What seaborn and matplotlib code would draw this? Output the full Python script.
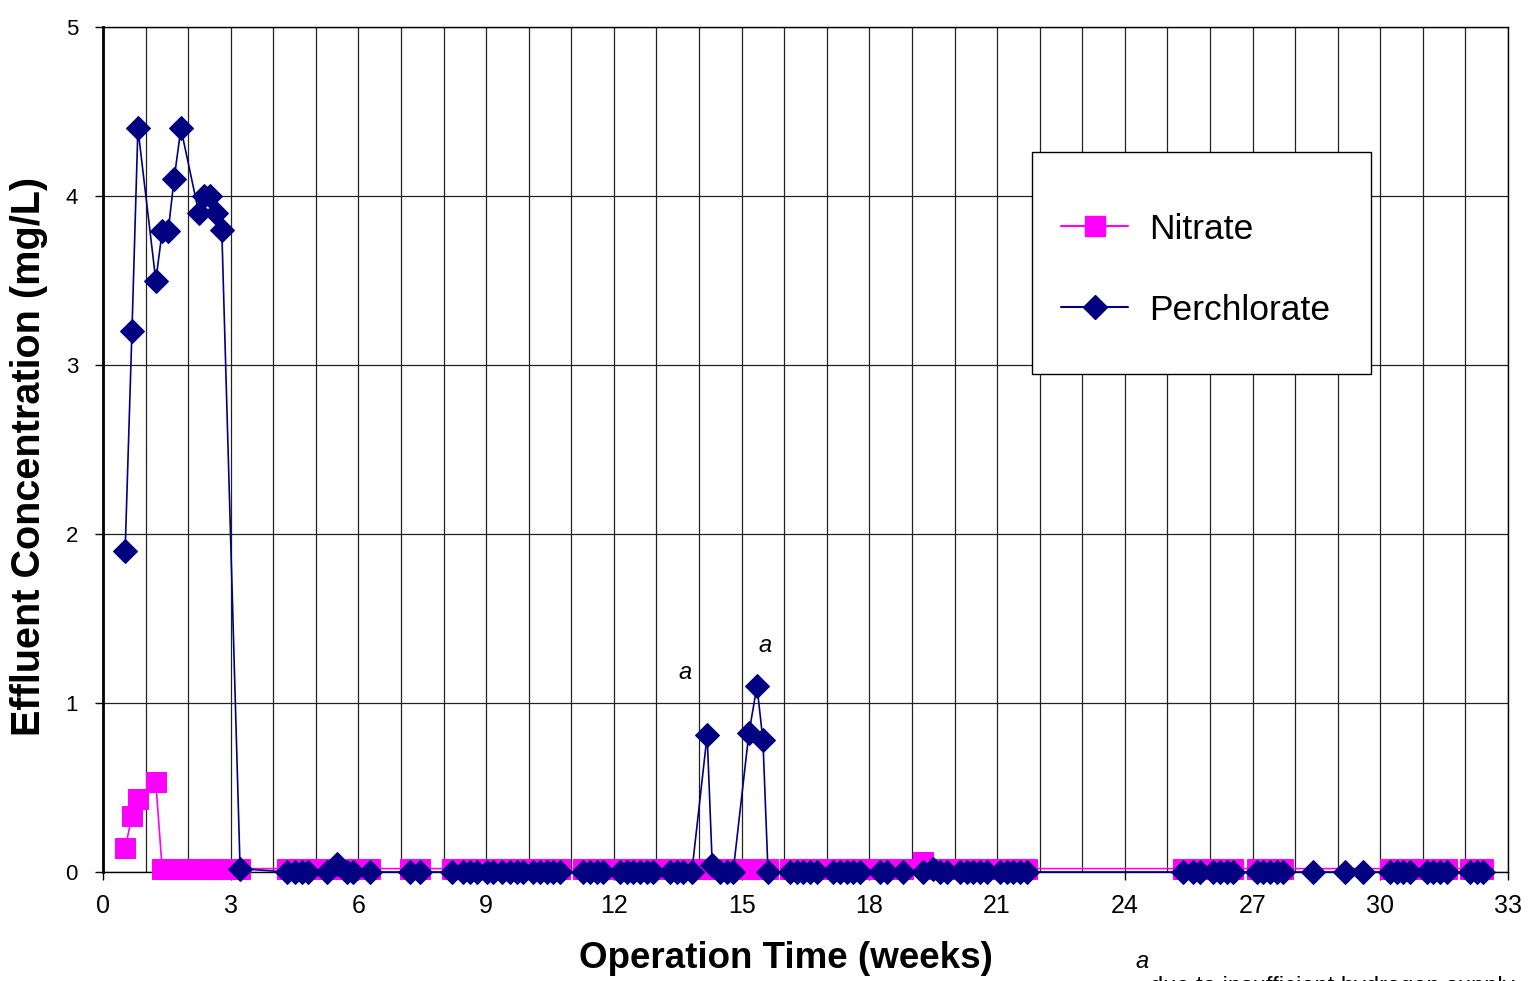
import matplotlib
matplotlib.use("Agg")
import matplotlib.pyplot as plt
import seaborn as sns
import pandas as pd
from matplotlib.patches import Rectangle
from matplotlib.lines import Line2D
from matplotlib import font_manager as fm

# ---------------- data ----------------
perc_weeks = [0.52, 0.68, 0.82, 1.24, 1.39, 1.53, 1.67, 1.83, 2.25, 2.37, 2.51, 2.65, 2.79, 3.22,
              4.32, 4.51, 4.67, 4.81, 5.26, 5.50, 5.73, 5.87, 6.27,
              7.21, 7.45,
              8.20, 8.46, 8.62, 8.78, 9.02, 9.16, 9.37, 9.56, 9.72, 9.86, 10.10, 10.26, 10.43, 10.57, 10.73,
              11.27, 11.44, 11.60, 11.74, 12.14, 12.31, 12.45, 12.61, 12.78, 12.92,
              13.32, 13.48, 13.62, 13.83, 14.19, 14.31, 14.49, 14.66, 14.80, 15.17, 15.36, 15.50, 15.62,
              16.14, 16.30, 16.44, 16.61, 16.77, 17.15, 17.31, 17.47, 17.62, 17.78, 18.25, 18.41, 18.79,
              19.26, 19.49, 19.66, 19.82, 20.13, 20.29, 20.43, 20.60, 20.77, 21.07, 21.23, 21.37, 21.54, 21.70,
              25.37, 25.60, 25.77, 26.07, 26.24, 26.40, 26.54, 27.10, 27.25, 27.41, 27.57, 27.72,
              28.42, 29.17, 29.59,
              30.23, 30.39, 30.53, 30.70, 31.10, 31.24, 31.40, 31.57,
              32.11, 32.27, 32.41]
perc_conc = [1.90, 3.20, 4.40, 3.50, 3.79, 3.79, 4.10, 4.40, 3.90, 4.00, 4.00, 3.90, 3.80, 0.02,
             0.0, 0.0, 0.0, 0.0, 0.0, 0.05, 0.0, 0.0, 0.0,
             0.0, 0.0,
             0.0, 0.0, 0.0, 0.0, 0.0, 0.0, 0.0, 0.0, 0.0, 0.0, 0.0, 0.0, 0.0, 0.0, 0.0,
             0.0, 0.0, 0.0, 0.0, 0.0, 0.0, 0.0, 0.0, 0.0, 0.0,
             0.0, 0.0, 0.0, 0.0, 0.81, 0.04, 0.0, 0.0, 0.0, 0.82, 1.10, 0.78, 0.0,
             0.0, 0.0, 0.0, 0.0, 0.0, 0.0, 0.0, 0.0, 0.0, 0.0, 0.0, 0.0, 0.0,
             0.0, 0.02, 0.0, 0.0, 0.0, 0.0, 0.0, 0.0, 0.0, 0.0, 0.0, 0.0, 0.0, 0.0,
             0.0, 0.0, 0.0, 0.0, 0.0, 0.0, 0.0, 0.0, 0.0, 0.0, 0.0, 0.0,
             0.0, 0.0, 0.0,
             0.0, 0.0, 0.0, 0.0, 0.0, 0.0, 0.0, 0.0,
             0.0, 0.0, 0.0]

nit_weeks = [0.52, 0.68, 0.82, 1.24, 1.39, 1.53, 1.67, 1.83, 2.25, 2.37, 2.51, 2.65, 2.79, 3.22,
             4.32, 4.51, 4.67, 4.81, 5.26, 5.50, 5.73, 5.87, 6.27,
             7.21, 7.45,
             8.20, 8.46, 8.62, 8.78, 9.02, 9.16, 9.37, 9.56, 9.72, 9.86, 10.10, 10.26, 10.43, 10.57, 10.73,
             11.27, 11.44, 11.60, 11.74, 12.14, 12.31, 12.45, 12.61, 12.78, 12.92,
             13.32, 13.48, 13.62, 13.83, 14.19, 14.31, 14.49, 14.66, 14.80, 15.17, 15.36, 15.50, 15.62,
             16.14, 16.30, 16.44, 16.61, 16.77, 17.15, 17.31, 17.47, 17.62, 17.78, 18.25, 18.41, 18.79,
             19.26, 19.49, 19.66, 19.82, 20.13, 20.29, 20.43, 20.60, 20.77, 21.07, 21.23, 21.37, 21.54, 21.70,
             25.37, 25.60, 25.77, 26.07, 26.24, 26.40, 26.54, 27.10, 27.25, 27.41, 27.57, 27.72,
             30.23, 30.39, 30.53, 30.70, 31.10, 31.24, 31.40, 31.57,
             32.11, 32.27, 32.41]
nit_conc = [0.14, 0.33, 0.43, 0.53, 0.02, 0.02, 0.02, 0.02, 0.02, 0.02, 0.02, 0.02, 0.02, 0.02,
            0.02, 0.02, 0.02, 0.02, 0.02, 0.02, 0.02, 0.02, 0.02,
            0.02, 0.02,
            0.02, 0.02, 0.02, 0.02, 0.02, 0.02, 0.02, 0.02, 0.02, 0.02, 0.02, 0.02, 0.02, 0.02, 0.02,
            0.02, 0.02, 0.02, 0.02, 0.02, 0.02, 0.02, 0.02, 0.02, 0.02,
            0.02, 0.02, 0.02, 0.02, 0.02, 0.02, 0.02, 0.02, 0.02, 0.02, 0.02, 0.02, 0.02,
            0.02, 0.02, 0.02, 0.02, 0.02, 0.02, 0.02, 0.02, 0.02, 0.02, 0.02, 0.02, 0.02,
            0.06, 0.02, 0.02, 0.02, 0.02, 0.02, 0.02, 0.02, 0.02, 0.02, 0.02, 0.02, 0.02, 0.02,
            0.02, 0.02, 0.02, 0.02, 0.02, 0.02, 0.02, 0.02, 0.02, 0.02, 0.02, 0.02,
            0.02, 0.02, 0.02, 0.02, 0.02, 0.02, 0.02, 0.02,
            0.02, 0.02, 0.02]

x_ticks = [0, 3, 6, 9, 12, 15, 18, 21, 24, 27, 30, 33]
y_ticks = [0, 1, 2, 3, 4, 5]
series_names = ["Nitrate", "Perchlorate"]
note_positions_x = [13.67, 15.55]
note_positions_y = [1.18, 1.34]

NIT_COLOR = "#FF00FF"
PERC_COLOR = "#000080"

# ---------------- fonts ----------------
sns.set_style("ticks")
avail = {f.name for f in fm.fontManager.ttflist}
REG = ["Liberation Sans", "DejaVu Sans"]
NARROW = (["Liberation Sans Narrow"] if "Liberation Sans Narrow" in avail else []) + REG
plt.rcParams["font.family"] = REG
plt.rcParams["text.color"] = "black"
plt.rcParams["xtick.color"] = "black"
plt.rcParams["ytick.color"] = "black"
plt.rcParams["axes.labelcolor"] = "black"

fig = plt.figure(figsize=(15.28, 9.81), dpi=100)
ax = fig.add_axes([103 / 1528, 109 / 981, 1405 / 1528, 845 / 981])

nit_df = pd.DataFrame({"week": nit_weeks, "conc": nit_conc})
perc_df = pd.DataFrame({"week": perc_weeks, "conc": perc_conc})

sns.lineplot(data=nit_df, x="week", y="conc", ax=ax, color=NIT_COLOR, lw=1.2,
             marker="s", markersize=15, markeredgecolor=NIT_COLOR, markerfacecolor=NIT_COLOR,
             sort=False, estimator=None, clip_on=False, zorder=3)
sns.lineplot(data=perc_df, x="week", y="conc", ax=ax, color=PERC_COLOR, lw=1.2,
             marker="D", markersize=12, markeredgecolor=PERC_COLOR, markerfacecolor=PERC_COLOR,
             sort=False, estimator=None, clip_on=False, zorder=4)

ax.set_xlim(0, 33)
ax.set_ylim(0, 5)
ax.set_xticks(x_ticks)
ax.set_xticks(range(0, 34), minor=True)
ax.set_yticks(y_ticks)
ax.set_xticklabels([str(v) for v in x_ticks], family=NARROW, fontsize=18, color="black")
ax.set_yticklabels([str(v) for v in y_ticks], family=REG, fontsize=16, color="black")
ax.tick_params(axis="x", which="major", direction="out", length=6, width=1, pad=10, color="black")
ax.tick_params(axis="x", which="minor", length=0)
ax.tick_params(axis="y", direction="out", length=6, width=1, pad=12, color="black")

ax.grid(True, axis="x", which="both", color="#222222", lw=0.9, zorder=0)
ax.grid(True, axis="y", which="major", color="#222222", lw=0.9, zorder=0)
ax.set_axisbelow(True)
for s in ["top", "right", "bottom"]:
    ax.spines[s].set_visible(True)
    ax.spines[s].set_color("black")
    ax.spines[s].set_linewidth(1.0)
ax.spines["left"].set_linewidth(2.0)
ax.spines["left"].set_color("black")
ax.set_xlabel("")
ax.set_ylabel("")

# annotations "a"
for xx, yy in zip(note_positions_x, note_positions_y):
    ax.text(xx, yy, "a", fontsize=17, style="italic", ha="center", va="center", family=REG, color="black")

# legend with exact box
lx0, ly0 = (1032 - 103) / 1405, (872 - 374) / 845
lx1, ly1 = (1371 - 103) / 1405, (872 - 152) / 845
ax.add_patch(Rectangle((lx0, ly0), lx1 - lx0, ly1 - ly0, transform=ax.transAxes,
                       facecolor="white", edgecolor="black", lw=1.0, zorder=6))
handles = [Line2D([], [], color=NIT_COLOR, lw=1.5, marker="s", markersize=15),
           Line2D([], [], color=PERC_COLOR, lw=1.5, marker="D", markersize=12)]
leg = ax.legend(handles, series_names, loc="center", bbox_to_anchor=((lx0 + lx1) / 2 - 0.004, (ly0 + ly1) / 2 - 0.008),
                bbox_transform=ax.transAxes, frameon=False, prop={"family": REG, "size": 25.5},
                handlelength=1.9, handletextpad=0.6, labelspacing=1.35)
for t in leg.get_texts():
    t.set_color("black")
leg.set_zorder(7)

# axis titles
fig.text(786 / 1528, 1 - 958 / 981, "Operation Time (weeks)", ha="center", va="center",
         fontsize=26.5, fontweight="bold", family=NARROW, color="black")
fig.text(29 / 1528, 1 - 456 / 981, "Effluent Concentration (mg/L)", ha="center", va="center",
         rotation=90, fontsize=28.5, fontweight="bold", family=REG, color="black")

# footnote (partially cut off at bottom, as in the reference)
fig.text(1142 / 1528, 1 - 961 / 981, "a", ha="center", va="center", fontsize=17, style="italic",
         family=REG, color="black")
fig.text(1150 / 1528, 1 - 976 / 981, "due to insufficient hydrogen supply", ha="left", va="top",
         fontsize=17, family=REG, color="black")

fig.savefig("out.png", dpi=100)
